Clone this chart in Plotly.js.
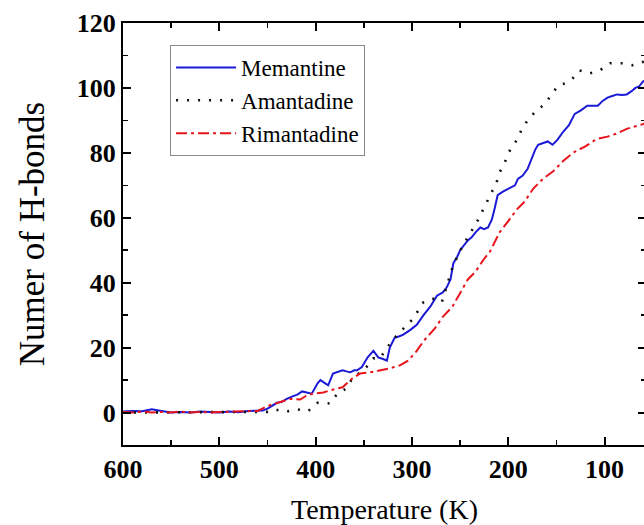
<!DOCTYPE html>
<html>
<head>
<meta charset="utf-8">
<script src="https://cdn.plot.ly/plotly-3.0.1.min.js"></script>
<style>
html,body{margin:0;padding:0;overflow:hidden;background:#fff;}
#chart{width:650px;height:525px;}
</style>
</head>
<body>
<div id="chart"></div>
<script>
// Memantine
const memT = [600,590,580,570,560,550,540,530,520,510,500,490,480,470,460,455,450,445,440,435,430,424,419,414,408,404,398,395,390,387,382,377,372,367,364,360,357,352,346,340,335,330,326,323,318,313,309,302,295,288,281,274,268,264,260,257,253,250,246,242,238,234,229,225,221,217,214,211,206,200,196,193,190,185,180,175,172,169,164,159,154,149,143,137,131,125,118,112,107,102,97,92,87,82,77,72,68,64,60,56];
const memN = [0.3,0.5,0.4,1.0,0.5,0.0,0.2,0.0,0.3,0.2,0.0,0.3,0.1,0.5,0.6,0.6,1.2,2.0,3.0,3.3,4.2,5.0,5.5,6.5,6.0,5.8,9.0,10.0,9.0,8.4,12.0,12.5,13.0,12.6,12.4,13.0,13.0,14.0,17.0,19.0,17.0,16.5,16.0,20.0,23.0,23.5,24.0,25.4,27.0,30.0,32.6,36.0,37.0,38.5,41.0,46.0,48.0,50.0,51.5,53.0,54.0,55.5,57.0,56.5,57.0,59.5,63.0,67.0,68.0,69.0,69.5,70.0,72.0,73.0,75.0,79.0,81.0,82.5,83.0,83.5,82.5,84.0,86.5,88.5,92.0,93.0,94.5,94.5,94.5,96.0,97.0,97.5,98.0,97.8,98.0,99.0,100.0,100.5,102.0,102.5];
// Amantadine
const amaT = [600,580,560,540,520,500,480,460,450,442,432,419,408,398,385,377,368,361,350,340,333,326,315,305,300,295,288,281,275,269,262,258,253,247,240,231,226,221,212,209,203,198,191,186,180,171,162,155,148,141,133,126,115,105,94,82,71,61,56];
const amaN = [0,0,0,0,0,0,0,0,0.2,1.0,0.2,1.0,0.4,3.0,2.8,6.0,7.4,11.0,13.0,16.7,16.7,20.0,24.0,27.0,28.5,30.7,34.0,35.0,35.0,34.0,41.0,44.6,48.0,51.5,55.0,59.5,62.6,65.7,71.0,74.0,77.5,81.0,84.0,87.2,90.0,93.0,95.0,98.0,100.8,101.4,103.0,105.4,104.5,105.4,107.6,107.6,107.0,108.0,108.0];
// Rimantadine
const rimT = [600,590,580,570,560,550,540,530,520,510,500,490,480,470,460,450,440,427,416,409,403,392,378,372,362,354,343,333,323,312,304,295,288,276,268,258,250,242,234,226,219,209,200,191,183,174,164,153,143,133,120,108,97,87,77,66,60,56];
const rimN = [0.2,0,0.3,0,0.2,0,0.3,0,0.2,0,0.2,0.3,0.2,0.3,0.5,2.0,3.0,4.2,4.0,5.3,5.8,6.2,7.4,7.8,10.5,12.0,12.4,13.0,13.6,14.6,16.0,19.0,22.0,26.0,29.5,32.6,37.0,41.0,43.4,47.0,49.6,55.5,59.0,62.6,65.0,69.0,72.0,74.4,77.5,80.0,82.0,84.3,85.0,86.0,87.4,88.4,89.0,89.2];

const xTicks = [600,500,400,300,200,100];
const yTicks = [0,20,40,60,80,100,120];

const serif = "Liberation Serif, Times New Roman, serif";

const traces = [
  {x: memT, y: memN, name: 'Memantine', mode: 'lines',
   line: {color: '#1a1ad6', width: 2}},
  {x: amaT, y: amaN, name: 'Amantadine', mode: 'lines',
   line: {color: '#111111', width: 2.6, dash: '2px,9px'}},
  {x: rimT, y: rimN, name: 'Rimantadine', mode: 'lines',
   line: {color: '#e8141b', width: 2, dash: '11px,4px,3px,4px'}}
];

const axisCommon = {
  showgrid: false, zeroline: false,
  showline: true, linecolor: '#000', linewidth: 2,
  mirror: 'ticks',
  ticks: 'inside', ticklen: 8, tickwidth: 2, tickcolor: '#000',
  tickfont: {family: serif, size: 26, color: '#000', weight: 'bold'},
  minor: {ticks: 'inside', ticklen: 5, tickwidth: 1.5, tickcolor: '#000'}
};

const layout = {
  width: 650, height: 525,
  margin: {l: 123, r: 4, t: 23, b: 80},
  paper_bgcolor: '#fff', plot_bgcolor: '#fff',
  showlegend: true,
  legend: {
    x: 0.09, y: 0.948, xanchor: 'left', yanchor: 'top',
    bordercolor: '#8a8a8a', borderwidth: 1, bgcolor: 'rgba(255,255,255,0)',
    font: {family: serif, size: 23, color: '#000'},
    itemwidth: 60, tracegroupgap: 0
  },
  xaxis: Object.assign({}, axisCommon, {
    range: [600, 57], tickvals: xTicks, ticktext: xTicks.map(String),
    minor: Object.assign({}, axisCommon.minor, {tickvals: [550,450,350,250,150]}),
    title: {text: 'Temperature (K)', font: {family: serif, size: 28, color: '#000'}, standoff: 22}
  }),
  yaxis: Object.assign({}, axisCommon, {
    range: [-10, 120], tickvals: yTicks, ticktext: yTicks.map(String),
    minor: Object.assign({}, axisCommon.minor, {tickvals: [-10,10,30,50,70,90,110]}),
    title: {text: 'Numer of H-bonds', font: {family: serif, size: 35, color: '#000'}, standoff: 22}
  })
};

Plotly.newPlot('chart', traces, layout, {displayModeBar: false, staticPlot: true});
</script>
</body>
</html>
